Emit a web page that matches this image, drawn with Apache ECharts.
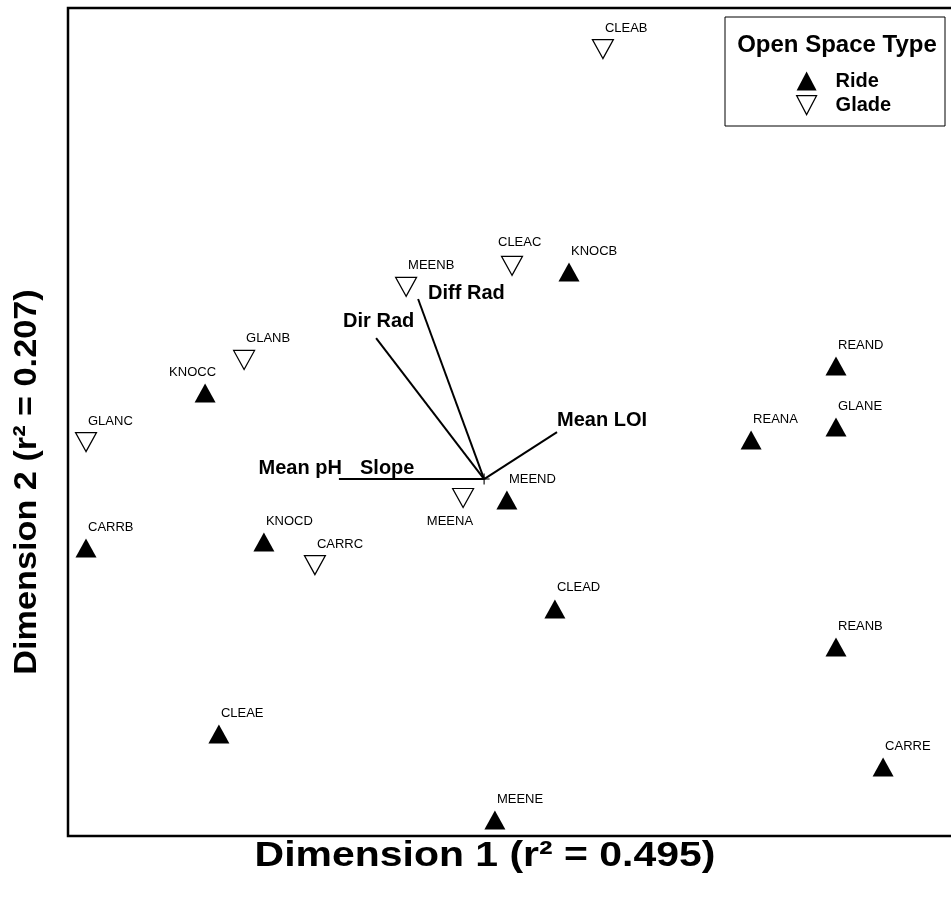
<!DOCTYPE html>
<html>
<head>
<meta charset="utf-8">
<script src="https://cdn.jsdelivr.net/npm/echarts@6/dist/echarts.min.js"></script>
<style>
  html, body { margin: 0; padding: 0; background: #fff; overflow: hidden; }
  #chart { width: 975px; height: 900px; }
</style>
</head>
<body>
<div id="chart"></div>
<script>
// NMDS ordination scores of the sampled open spaces
const rideNames = ['KNOCB', 'KNOCC', 'CARRB', 'KNOCD', 'MEEND', 'CLEAD', 'REAND', 'REANA', 'GLANE', 'REANB', 'CLEAE', 'CARRE', 'MEENE'];
const rideDim1 = [0.170, -1.043, -1.440, -0.847, -0.037, 0.123, 1.060, 0.777, 1.060, 1.060, -0.997, 1.217, -0.077];
const rideDim2 = [0.507, 0.098, -0.426, -0.406, -0.264, -0.632, 0.189, -0.061, -0.017, -0.761, -1.055, -1.167, -1.346];

const gladeNames = ['CLEAB', 'CLEAC', 'MEENB', 'GLANB', 'GLANC', 'CARRC', 'MEENA'];
const gladeDim1 = [0.283, -0.020, -0.373, -0.913, -1.440, -0.677, -0.183];
const gladeDim2 = [1.261, 0.528, 0.457, 0.210, -0.068, -0.484, -0.257];

// Environmental vectors fitted onto the ordination
const vectorOrigin = [-0.113, -0.193];
const vectorNames = ['Mean pH', 'Slope', 'Dir Rad', 'Diff Rad', 'Mean LOI'];
const vectorDim1 = [-0.597, -0.560, -0.473, -0.333, 0.130];
const vectorDim2 = [-0.193, -0.193, 0.284, 0.416, -0.034];

// label placement relative to each symbol centre: [dx, dy, align]
const labelPlacement = {
  KNOCC: [-36, -21, 'left'],
  MEENA: [10, 23, 'right'],
  CLEAC: [-14, -23, 'left']
};
const vectorLabelPlacement = {
  'Mean pH': [3, -11, 'right'],
  'Slope': [10, -11, 'left'],
  'Dir Rad': [-33, -17, 'left'],
  'Diff Rad': [10, -5, 'left'],
  'Mean LOI': [0, -12, 'left']
};

const font = 'Liberation Sans, Arial, sans-serif';

function siteData(names, d1, d2) {
  return names.map(function (n, i) {
    const p = labelPlacement[n] || [2, -21, 'left'];
    return {
      name: n,
      value: [d1[i], d2[i]],
      label: { offset: [p[0], p[1]], align: p[2] }
    };
  });
}

const siteLabel = {
  show: true,
  position: ['50%', '50%'],
  verticalAlign: 'middle',
  formatter: '{b}',
  color: '#000',
  fontFamily: font,
  fontSize: 13
};

const vectorLines = vectorNames.map(function (n, i) {
  return { name: n, coords: [vectorOrigin, [vectorDim1[i], vectorDim2[i]]] };
});
const vectorTips = vectorNames.map(function (n, i) {
  const p = vectorLabelPlacement[n];
  return {
    name: n,
    value: [vectorDim1[i], vectorDim2[i]],
    label: { offset: [p[0], p[1]], align: p[2] }
  };
});

const downTriangle = 'path://M0,0L20,0L10,19Z';

const chart = echarts.init(document.getElementById('chart'), null, { renderer: 'canvas' });
chart.setOption({
  animation: false,
  backgroundColor: '#fff',
  grid: {
    left: 68, top: 8, width: 900, height: 828,
    show: true, borderColor: '#000', borderWidth: 2.5, backgroundColor: 'transparent'
  },
  xAxis: {
    type: 'value', min: -1.5, max: 1.5,
    axisLine: { show: false }, axisTick: { show: false },
    axisLabel: { show: false }, splitLine: { show: false }
  },
  yAxis: {
    type: 'value', min: -1.4, max: 1.4,
    axisLine: { show: false }, axisTick: { show: false },
    axisLabel: { show: false }, splitLine: { show: false }
  },
  legend: {
    orient: 'vertical',
    left: 791, top: 66,
    itemWidth: 20, itemHeight: 19, itemGap: 4,
    selectedMode: false,
    textStyle: { fontFamily: font, fontWeight: 'bold', fontSize: 20, color: '#000', padding: [0, 0, 0, 14] },
    data: [
      { name: 'Ride', icon: 'triangle', itemStyle: { color: '#000', opacity: 1 } },
      { name: 'Glade', icon: downTriangle, itemStyle: { color: '#fff', borderColor: '#000', borderWidth: 1.2, opacity: 1 } }
    ]
  },
  graphic: [
    {
      type: 'rect', x: 725, y: 17, z: 10,
      shape: { width: 220, height: 109 },
      style: { fill: 'none', stroke: '#000', lineWidth: 1 }
    },
    {
      type: 'text', z: 10, x: 837, y: 45,
      style: {
        text: 'Open Space Type',
        align: 'center', verticalAlign: 'middle',
        font: 'bold 24px ' + font, fill: '#000'
      }
    },
    {
      type: 'text', z: 10, x: 485, y: 856, scaleX: 1.17,
      style: {
        text: 'Dimension 1 (r² = 0.495)',
        align: 'center', verticalAlign: 'middle',
        font: 'bold 35px ' + font, fill: '#000'
      }
    },
    {
      type: 'text', z: 10, x: 27, y: 482, rotation: Math.PI / 2, scaleX: 1.07,
      style: {
        text: 'Dimension 2 (r² = 0.207)',
        align: 'center', verticalAlign: 'middle',
        font: 'bold 32px ' + font, fill: '#000'
      }
    }
  ],
  series: [
    {
      name: 'Vectors',
      type: 'lines',
      coordinateSystem: 'cartesian2d',
      polyline: false,
      silent: true,
      lineStyle: { color: '#000', width: 2, opacity: 1 },
      data: vectorLines,
      z: 2
    },
    {
      name: 'Vector labels',
      type: 'scatter',
      symbol: 'circle',
      symbolSize: 1,
      itemStyle: { color: 'rgba(0,0,0,0)', opacity: 1 },
      silent: true,
      data: vectorTips,
      label: {
        show: true, position: ['50%', '50%'], verticalAlign: 'middle',
        formatter: '{b}', color: '#000',
        fontFamily: font, fontWeight: 'bold', fontSize: 20
      },
      z: 3
    },
    {
      name: 'Origin',
      type: 'scatter',
      symbol: 'path://M0,4.5h10v1h-10z M4.5,0h1v10h-1z',
      symbolSize: 11,
      itemStyle: { color: '#000', opacity: 1 },
      silent: true,
      data: [vectorOrigin],
      z: 3
    },
    {
      name: 'Ride',
      type: 'scatter',
      symbol: 'triangle',
      symbolSize: [21, 19],
      itemStyle: { color: '#000', opacity: 1 },
      label: siteLabel,
      emphasis: { disabled: true },
      data: siteData(rideNames, rideDim1, rideDim2),
      z: 4
    },
    {
      name: 'Glade',
      type: 'scatter',
      symbol: 'triangle',
      symbolRotate: 180,
      symbolSize: [21, 19],
      itemStyle: { color: '#fff', borderColor: '#000', borderWidth: 1.2, opacity: 1 },
      label: siteLabel,
      emphasis: { disabled: true },
      data: siteData(gladeNames, gladeDim1, gladeDim2),
      z: 4
    }
  ]
});
</script>
</body>
</html>
